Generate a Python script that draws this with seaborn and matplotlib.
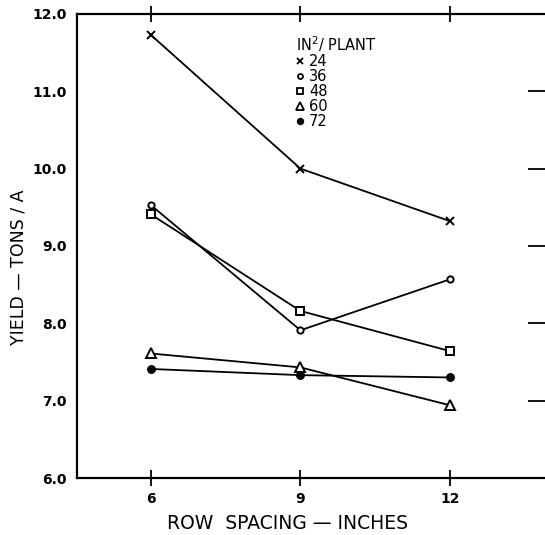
import numpy as np
import pandas as pd
import matplotlib
matplotlib.use('Agg')
import matplotlib.pyplot as plt
import seaborn as sns
from matplotlib.lines import Line2D

# Data
row_spacing = [6, 9, 12]
density = ['24', '36', '48', '60', '72']
yield_24 = [11.73, 10.00, 9.32]
yield_36 = [9.53, 7.91, 8.57]
yield_48 = [9.41, 8.16, 7.64]
yield_60 = [7.61, 7.43, 6.94]
yield_72 = [7.41, 7.33, 7.30]
y_ticks = [6.0, 7.0, 8.0, 9.0, 10.0, 11.0, 12.0]

series = [yield_24, yield_36, yield_48, yield_60, yield_72]
markers = ['x', 'o', 's', '^', 'o']
facecolors = ['black', 'white', 'white', 'white', 'black']
sizes = [6, 4.5, 5.5, 7, 5]

sns.set_style('white')
plt.rcParams['font.family'] = ['DejaVu Sans']
plt.rcParams['text.color'] = 'black'

fig = plt.figure(figsize=(5.45, 5.35), dpi=100)
ax = fig.add_axes([0.141, 0.1065, 0.859, 0.8675])

for lab, vals, m, fc, ms in zip(density, series, markers, facecolors, sizes):
    df = pd.DataFrame({'spacing': row_spacing, 'yield': vals})
    sns.lineplot(
        x='spacing', y='yield', data=df, color='black', linewidth=1.3,
        marker=m, markersize=ms, markerfacecolor=fc, markeredgecolor='black',
        markeredgewidth=1.4, ax=ax
    )

ax.set_xlim(4.52, 13.9)
ax.set_ylim(6.0, 12.0)
ax.set_xticks(row_spacing)
ax.set_xticklabels([str(v) for v in row_spacing], fontsize=10, fontweight='bold')
ax.set_yticks(y_ticks)
ax.set_yticklabels([f"{v:.1f}" for v in y_ticks], fontsize=10, fontweight='bold')
ax.tick_params(axis='both', direction='inout', length=12, width=1.3, color='black',
               pad=1, labelcolor='black')
ax.tick_params(axis='x', pad=4)
ax.tick_params(axis='x', top=True, bottom=True, labeltop=False)

for side in ['left', 'bottom', 'top']:
    ax.spines[side].set_color('black')
    ax.spines[side].set_linewidth(1.6)
ax.spines['right'].set_visible(False)

# partial tick marks of the cut-off right axis
ax.hlines(y_ticks[1:-1], 13.55, 13.9, color='black', linewidth=1.3)

ax.set_xlabel('ROW  SPACING — INCHES', fontsize=13.5, color='black')
ax.set_ylabel('YIELD — TONS / A', fontsize=12.5, color='black')
ax.xaxis.set_label_coords(0.449, -0.078)
ax.yaxis.set_label_coords(-0.105, 0.455)

handles = [
    Line2D([], [], linestyle='none', marker=m, markersize=ms * 0.8,
           markerfacecolor=fc, markeredgecolor='black', markeredgewidth=1.3)
    for m, fc, ms in zip(markers, facecolors, sizes)
]
leg = ax.legend(
    handles, density, title='IN$^2$/ PLANT', frameon=False,
    loc='upper left', bbox_to_anchor=(0.44, 0.985), handlelength=0.6,
    handletextpad=0.3, labelspacing=0.0, fontsize=10.5, title_fontsize=10.5
)
leg._legend_box.align = 'left'

fig.savefig('out.png', dpi=100)
